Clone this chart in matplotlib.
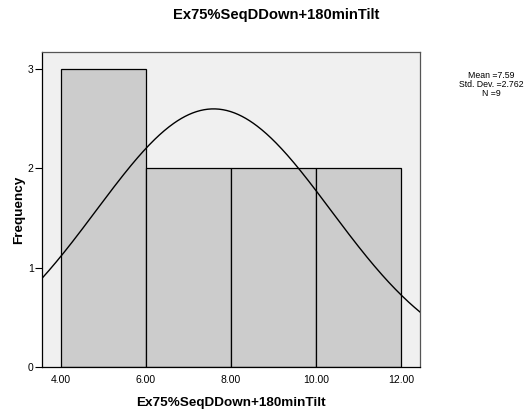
import numpy as np
import matplotlib
matplotlib.use("Agg")
import matplotlib.pyplot as plt

plt.rcParams['font.family'] = ['Liberation Sans', 'DejaVu Sans']

title = "Ex75%SeqDDown+180minTilt"
bin_edges = [4.0, 6.0, 8.0, 10.0, 12.0]
counts = [3, 2, 2, 2]
mean_val = 7.59
std_val = 2.762
n_val = 9
x_ticks = [4.0, 6.0, 8.0, 10.0, 12.0]
y_ticks = [0, 1, 2, 3]

fig = plt.figure(figsize=(5.24, 4.12), dpi=100)
ax = fig.add_axes([0.0802, 0.1092, 0.7213, 0.7634])
ax.set_facecolor('#f0f0f0')

lefts = bin_edges[:-1]
widths = np.diff(bin_edges)
ax.bar(lefts, counts, width=widths, align='edge', color='#cccccc',
       edgecolor='black', linewidth=0.9, zorder=2)

# normal curve scaled to the histogram counts
bw = widths[0]
xs = np.linspace(3.553, 12.447, 400)
ys = n_val * bw / (std_val * np.sqrt(2 * np.pi)) * np.exp(-0.5 * ((xs - mean_val) / std_val) ** 2)
ax.plot(xs, ys, color='black', linewidth=1.0, zorder=3)

ax.set_xlim(3.553, 12.447)
ax.set_ylim(0, 3.168)
ax.set_xticks(x_ticks)
ax.set_xticklabels([f"{v:.2f}" for v in x_ticks], fontsize=7.5)
ax.set_yticks(y_ticks)
ax.set_yticklabels([str(v) for v in y_ticks], fontsize=7.5)
ax.tick_params(axis='x', length=0, pad=5.5)
ax.tick_params(axis='y', length=5, width=0.8, pad=1)
for s in ax.spines.values():
    s.set_color('#555555')
    s.set_linewidth(0.9)
ax.spines['left'].set_color('black')
ax.spines['bottom'].set_color('black')

ax.set_xlabel(title, fontsize=9.7, fontweight='bold', labelpad=9)
ax.set_ylabel("Frequency", fontsize=9.7, fontweight='bold', labelpad=2)
fig.text(0.527, 0.963, title, fontsize=10.6, fontweight='bold', ha='center', va='center')

fig.text(0.937, 0.795, f"Mean ={mean_val}\nStd. Dev. ={std_val}\nN ={n_val}",
         fontsize=6.3, ha='center', va='center', linespacing=1.0)

fig.savefig("out.png", dpi=100)
